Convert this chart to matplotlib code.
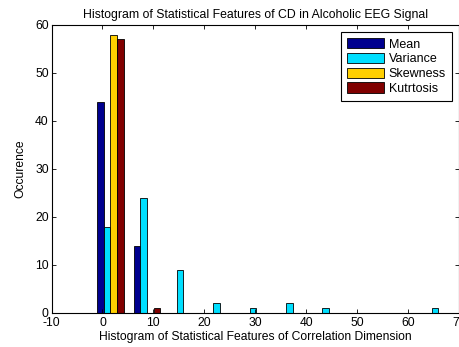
import numpy as np
import matplotlib
matplotlib.use('Agg')
import matplotlib.pyplot as plt

plt.rcParams['font.family'] = ['Liberation Sans', 'DejaVu Sans']
plt.rcParams['axes.unicode_minus'] = False

# bin centres of the histogram (10 bins)
bin_centres = [1.57, 8.72, 15.87, 23.02, 30.17, 37.32, 44.47, 51.62, 58.77, 65.92]
series_names = ['Mean', 'Variance', 'Skewness', 'Kutrtosis']
mean_counts = [44, 14, 0, 0, 0, 0, 0, 0, 0, 0]
variance_counts = [18, 24, 9, 2, 1, 2, 1, 0, 0, 1]
skewness_counts = [58, 0, 0, 0, 0, 0, 0, 0, 0, 0]
kurtosis_counts = [57, 1, 0, 0, 0, 0, 0, 0, 0, 0]
colors = ['#00008F', '#00DFFF', '#FFCF00', '#800000']

counts = [mean_counts, variance_counts, skewness_counts, kurtosis_counts]

fig = plt.figure(figsize=(4.6, 3.47), dpi=100)
ax = fig.add_axes([0.112, 0.098, 0.886, 0.830])

# grouped bars, four per bin
step = bin_centres[1] - bin_centres[0]
group_w = min(0.8, 4 / (4 + 1.5))
bar_w = group_w / 4 * step
x = np.array(bin_centres)
for i, (name, c, col) in enumerate(zip(series_names, counts, colors)):
    offs = (i - 1.5) * bar_w
    ax.bar(x + offs, c, width=bar_w, color=col, edgecolor='black',
           linewidth=0.6, label=name)

ax.set_xlim(-10, 70)
ax.set_ylim(0, 60)
ax.set_xticks(np.arange(-10, 71, 10))
ax.set_yticks(np.arange(0, 61, 10))
ax.tick_params(direction='in', top=True, right=True, labelsize=8.7, length=3, width=0.6, pad=2)
ax.tick_params(axis='x', pad=3)
for s in ax.spines.values():
    s.set_linewidth(0.8)

ax.set_title('Histogram of Statistical Features of CD in Alcoholic EEG Signal', fontsize=8.8, pad=5)
ax.set_xlabel('Histogram of Statistical Features of Correlation Dimension', fontsize=8.7, labelpad=1.5)
ax.set_ylabel('Occurence', fontsize=8.7, labelpad=6)

leg = ax.legend(loc='upper right', fontsize=9, fancybox=False, framealpha=1,
                edgecolor='black', borderaxespad=0.55, handlelength=3.0,
                handleheight=0.9, labelspacing=0.18, borderpad=0.5, handletextpad=0.35)
leg.get_frame().set_linewidth(0.8)

fig.savefig('out.png', dpi=100)
